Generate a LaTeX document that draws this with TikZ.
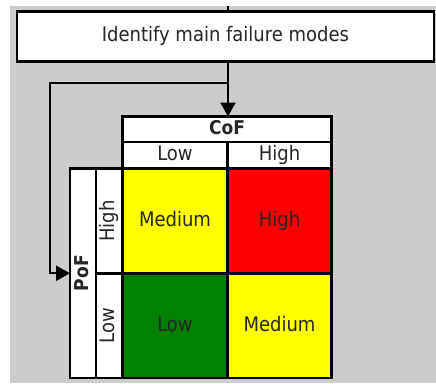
\documentclass[tikz,border=0pt]{standalone}
\usepackage{fontspec}
\setmainfont{DejaVu Sans Condensed}
\usetikzlibrary{arrows.meta}
\definecolor{bg}{HTML}{CCCCCC}
\definecolor{cy}{HTML}{FFFF00}
\definecolor{cr}{HTML}{FF0000}
\definecolor{cg}{HTML}{008000}
\begin{document}
\begin{tikzpicture}[x=1pt,y=-1pt,
  cell/.style={draw=black, line width=2.4pt, inner sep=0pt, outer sep=0pt,
    font=\fontsize{20}{22}\selectfont, text=black!85,
    text height=14.5pt, text depth=4pt},
  conn/.style={line width=2.4pt, draw=black},
  tip/.style={-{Triangle[length=14pt,width=15pt]}}]
\useasboundingbox (0,0) rectangle (436,383);
\fill[white] (0,0) rectangle (436,383);
\fill[bg] (10,6) rectangle (436,383);
% top box
\node[cell, fill=white, minimum width=417pt, minimum height=50pt] (fm) at (225.5,36.5) {Identify main failure modes};
% column headers
\node[cell, fill=white, minimum width=209pt, minimum height=25.5pt, font=\fontsize{19}{21}\selectfont\bfseries] (cof) at (227,129.25) {CoF};
\node[cell, fill=white, minimum width=105pt, minimum height=26.5pt] (clow) at (175,155.25) {Low};
\node[cell, fill=white, minimum width=104pt, minimum height=26.5pt] (chigh) at (279.5,155.25) {High};
% row headers (rotated: width is along the text)
\node[cell, fill=white, rotate=90, minimum width=209.5pt, minimum height=26pt, font=\fontsize{19}{21}\selectfont\bfseries] (pof) at (83,273.25) {PoF};
\node[cell, fill=white, rotate=90, minimum width=105pt, minimum height=26.5pt] (rhigh) at (109.25,221) {High};
\node[cell, fill=white, rotate=90, minimum width=104.5pt, minimum height=26.5pt] (rlow) at (109.25,325.75) {Low};
% matrix cells
\node[cell, fill=cy, minimum width=105pt, minimum height=105pt] (m11) at (175,221) {Medium};
\node[cell, fill=cr, minimum width=104pt, minimum height=105pt] (m12) at (279.5,221) {High};
\node[cell, fill=cg, minimum width=105pt, minimum height=104.5pt] (m21) at (175,325.75) {Low};
\node[cell, fill=cy, minimum width=104pt, minimum height=104.5pt] (m22) at (279.5,325.75) {Medium};
% connectors
\coordinate (top) at (228,6);
\coordinate (j) at (228,83);
\coordinate (bend) at (50,83);
\draw[conn] (top) -- (fm.north -| top);
\draw[conn, tip] (fm.south -| top) -- (cof.north -| top);
% pof.north is the left side of the rotated node
\draw[conn, tip, line join=miter] (j) -- (bend) |- (pof.north);
\end{tikzpicture}
\end{document}
